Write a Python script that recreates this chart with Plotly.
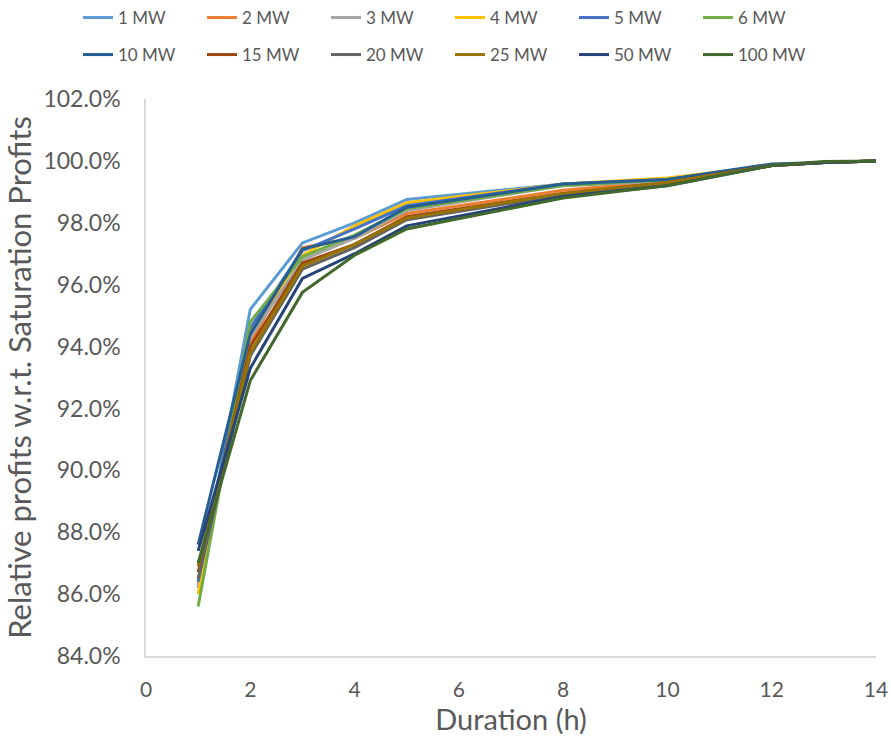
import plotly.graph_objects as go

# Storage duration (hours)
duration = [1, 2, 3, 4, 5, 8, 10, 12, 13, 14]

# Relative profits (%) with respect to saturation profits, one list per power rating
p_1mw = [86.2, 95.2, 97.35, 98.0, 98.75, 99.25, 99.4, 99.85, 99.95, 100.0]
p_2mw = [86.3, 94.1, 97.2, 97.5, 98.3, 99.05, 99.35, 99.85, 99.95, 100.0]
p_3mw = [86.2, 94.3, 96.8, 97.5, 98.4, 99.2, 99.35, 99.85, 99.95, 100.0]
p_4mw = [86.0, 94.5, 96.95, 97.9, 98.65, 99.25, 99.45, 99.85, 99.95, 100.0]
p_5mw = [86.4, 94.6, 97.1, 97.8, 98.55, 99.25, 99.4, 99.85, 99.95, 100.0]
p_6mw = [85.6, 94.8, 96.9, 97.6, 98.45, 99.2, 99.4, 99.85, 99.95, 100.0]
p_10mw = [87.6, 94.4, 97.15, 97.55, 98.5, 99.25, 99.4, 99.9, 99.95, 100.0]
p_15mw = [86.7, 94.0, 96.7, 97.3, 98.2, 98.95, 99.3, 99.85, 99.95, 100.0]
p_20mw = [86.5, 93.7, 96.5, 97.2, 98.1, 98.9, 99.25, 99.85, 99.95, 100.0]
p_25mw = [86.9, 93.8, 96.6, 97.3, 98.15, 98.95, 99.3, 99.85, 99.95, 100.0]
p_50mw = [87.4, 93.3, 96.2, 97.0, 97.9, 98.85, 99.2, 99.85, 99.95, 100.0]
p_100mw = [87.0, 92.9, 95.75, 96.95, 97.8, 98.8, 99.2, 99.85, 99.98, 100.0]

names = ["1 MW", "2 MW", "3 MW", "4 MW", "5 MW", "6 MW",
         "10 MW", "15 MW", "20 MW", "25 MW", "50 MW", "100 MW"]
series = [p_1mw, p_2mw, p_3mw, p_4mw, p_5mw, p_6mw,
          p_10mw, p_15mw, p_20mw, p_25mw, p_50mw, p_100mw]
colors = ["#5B9BD5", "#ED7D31", "#A5A5A5", "#FFC000", "#4472C4", "#70AD47",
          "#255E91", "#9E480E", "#636363", "#997300", "#264478", "#43682B"]

y_ticks = [84, 86, 88, 90, 92, 94, 96, 98, 100, 102]
x_ticks = [0, 2, 4, 6, 8, 10, 12, 14]

FONT = "Lato"
TEXT = "#595959"

# Plot-area geometry (pixels) used to place the two legend rows in paper units
W, H = 891, 744
M_L, M_R, M_T, M_B = 146, 15, 99, 88
PW, PH = W - M_L - M_R, H - M_T - M_B


def paper_x(px):
    return (px - M_L) / PW


def paper_y(py):
    return (H - M_B - py) / PH


fig = go.Figure()
for i, (name, vals, col) in enumerate(zip(names, series, colors)):
    fig.add_trace(go.Scatter(
        x=duration, y=vals, name=name, mode="lines",
        line=dict(color=col, width=3),
        legend="legend" if i < 6 else "legend2",
    ))

legend_common = dict(
    orientation="h", xanchor="left", yanchor="middle",
    font=dict(family=FONT, size=17, color=TEXT),
    entrywidth=79, entrywidthmode="pixels",
    itemwidth=30, tracegroupgap=0, bgcolor="rgba(0,0,0,0)",
)

fig.update_layout(
    width=W, height=H,
    margin=dict(l=M_L, r=M_R, t=M_T, b=M_B, autoexpand=False),
    paper_bgcolor="white", plot_bgcolor="white",
    font=dict(family=FONT, color=TEXT),
    legend=dict(x=paper_x(78), y=paper_y(18), **legend_common),
    legend2=dict(x=paper_x(78), y=paper_y(55), **legend_common),
    xaxis=dict(
        range=[0, 14], tickvals=x_ticks, ticktext=[str(v) for v in x_ticks],
        showgrid=False, zeroline=False, showline=True,
        linecolor="#D9D9D9", linewidth=1.5, ticks="",
        ticklabelstandoff=14,
        tickfont=dict(family=FONT, size=21, color=TEXT),
        title=dict(text="Duration (h)", font=dict(family=FONT, size=29, color=TEXT),
                   standoff=6),
    ),
    yaxis=dict(
        range=[84, 102], tickvals=y_ticks,
        ticktext=[f"{v:.1f}%" for v in y_ticks],
        showgrid=False, zeroline=False, showline=True,
        linecolor="#D9D9D9", linewidth=1.5, ticks="",
        ticklabelstandoff=19,
        tickfont=dict(family=FONT, size=23, color=TEXT),
        title=dict(text="Relative profits w.r.t. Saturation Profits",
                   font=dict(family=FONT, size=31, color=TEXT), standoff=6),
    ),
)

fig.write_html("out.html")
